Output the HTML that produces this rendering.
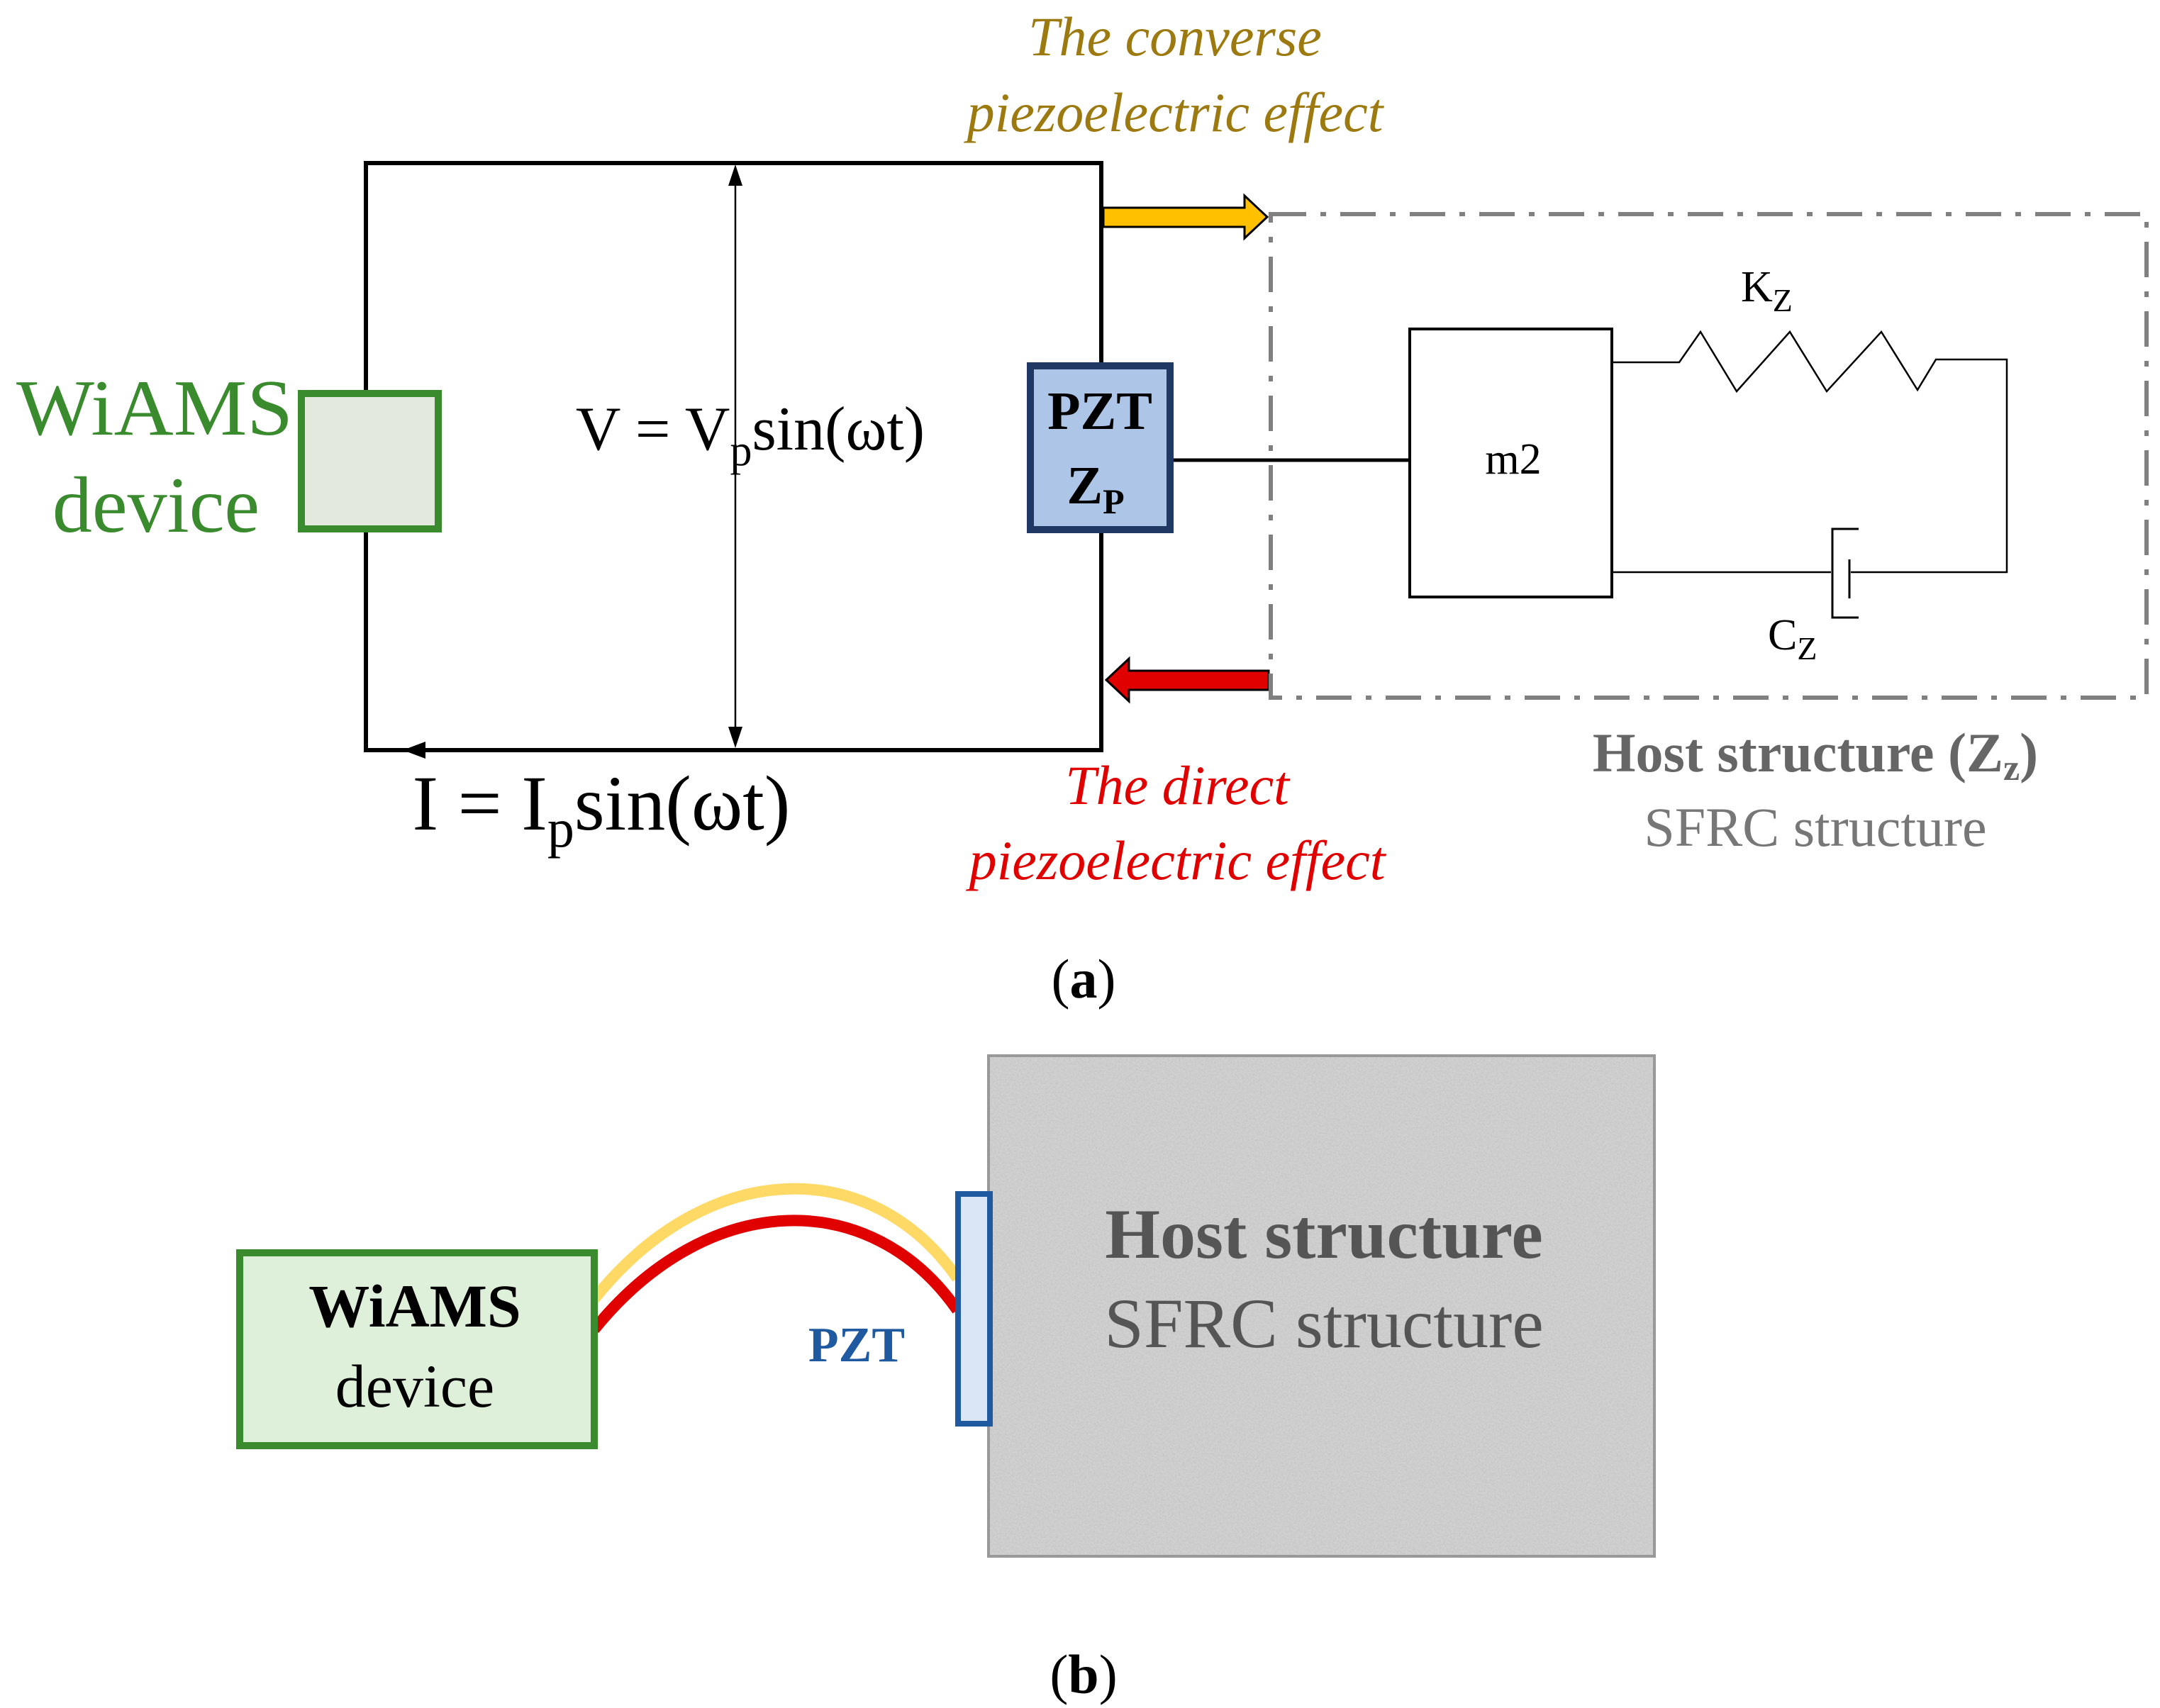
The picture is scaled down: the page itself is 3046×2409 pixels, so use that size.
<!DOCTYPE html>
<html><head><meta charset="utf-8"><style>
html,body{margin:0;padding:0;background:#fff;}
svg{display:block;}
text{font-family:"Liberation Serif",serif;}
</style></head><body>
<svg width="3046" height="2409" viewBox="0 0 3046 2409" xmlns="http://www.w3.org/2000/svg">
<defs>
<filter id="noise" x="0" y="0" width="100%" height="100%">
<feTurbulence type="fractalNoise" baseFrequency="0.4" numOctaves="2" seed="3" result="t"/>
<feColorMatrix in="t" type="matrix" values="0 0 0 0 0.5  0 0 0 0 0.5  0 0 0 0 0.5  0 0 0 0.9 -0.3"/>
</filter>
</defs>
<!-- Part a -->
<text x="1657" y="78" font-size="78" font-style="italic" fill="#9c7a10" text-anchor="middle">The converse</text>
<text x="1657" y="185" font-size="78" font-style="italic" fill="#9c7a10" text-anchor="middle">piezoelectric effect</text>

<rect x="516" y="230" width="1037" height="828" fill="none" stroke="#000" stroke-width="6"/>
<line x1="1037" y1="260" x2="1037" y2="1028" stroke="#000" stroke-width="2.5"/>
<polygon points="1037,232 1027,262 1047,262" fill="#000"/>
<polygon points="1037,1055 1027,1025 1047,1025" fill="#000"/>
<polygon points="568,1058 600,1046 600,1070" fill="#000"/>

<rect x="425" y="555" width="193" height="191" fill="#e3e9dd" stroke="#3a8a2e" stroke-width="10"/>
<text x="218" y="613" font-size="112" fill="#3a8a2e" text-anchor="middle" textLength="390" lengthAdjust="spacingAndGlyphs">WiAMS</text>
<text x="220" y="750" font-size="112" fill="#3a8a2e" text-anchor="middle">device</text>

<text x="1058" y="634" font-size="88" text-anchor="middle">V = V<tspan font-size="62" dy="22">p</tspan><tspan dy="-22">sin(ωt)</tspan></text>

<rect x="1453" y="516" width="197" height="231" fill="#adc6e8" stroke="#1f3864" stroke-width="10"/>
<text x="1551" y="605" font-size="76" font-weight="bold" text-anchor="middle">PZT</text>
<text x="1545" y="710" font-size="76" font-weight="bold" text-anchor="middle">Z<tspan font-size="50" dy="14">P</tspan></text>

<line x1="1655" y1="649" x2="1988" y2="649" stroke="#000" stroke-width="5"/>

<polygon points="1556,293 1755,293 1755,276 1787,306 1755,336 1755,320 1556,320" fill="#ffc000" stroke="#000" stroke-width="3"/>
<polygon points="1789,946 1592,946 1592,929 1560,959 1592,989 1592,973 1789,973" fill="#e00000" stroke="#000" stroke-width="3"/>

<rect x="1792" y="302" width="1235" height="682" fill="none" stroke="#808080" stroke-width="6" stroke-dasharray="50,20,8,20"/>

<rect x="1988" y="464" width="285" height="378" fill="none" stroke="#000" stroke-width="4"/>
<text x="2134" y="668" font-size="62" text-anchor="middle">m2</text>

<polyline points="2273,511 2368,511 2398,468 2449,552 2524,468 2576,552 2653,468 2704,550 2730,507 2830,507 2830,807 2610,807" fill="none" stroke="#000" stroke-width="2.5"/>
<line x1="2273" y1="807" x2="2582" y2="807" stroke="#000" stroke-width="2.5"/>
<polyline points="2621,746 2584,746 2584,871 2621,871" fill="none" stroke="#000" stroke-width="3"/>
<line x1="2608" y1="789" x2="2608" y2="844" stroke="#000" stroke-width="3"/>

<text x="2455" y="425" font-size="62">K<tspan font-size="46" dy="14">Z</tspan></text>
<text x="2493" y="916" font-size="62">C<tspan font-size="46" dy="14">Z</tspan></text>

<text x="2560" y="1088" font-size="78" font-weight="bold" fill="#666" text-anchor="middle">Host structure (Z<tspan font-size="52" dy="12">z</tspan><tspan dy="-12">)</tspan></text>
<text x="2560" y="1193" font-size="78" fill="#777" text-anchor="middle">SFRC structure</text>

<text x="1660" y="1134" font-size="78" font-style="italic" fill="#e00000" text-anchor="middle">The direct</text>
<text x="1660" y="1240" font-size="78" font-style="italic" fill="#e00000" text-anchor="middle">piezoelectric effect</text>

<text x="848" y="1170" font-size="110" text-anchor="middle">I = I<tspan font-size="76" dy="24">p</tspan><tspan dy="-24">sin(ωt)</tspan></text>

<text x="1528" y="1407" font-size="78" text-anchor="middle">(<tspan font-weight="bold">a</tspan>)</text>

<!-- Part b -->
<rect x="1394" y="1489" width="939" height="706" fill="#d0d0d0" stroke="#999" stroke-width="4"/>
<rect x="1396" y="1491" width="935" height="702" filter="url(#noise)"/>
<text x="1867" y="1774" font-size="100" font-weight="bold" fill="#555" text-anchor="middle">Host structure</text>
<text x="1867" y="1900" font-size="100" fill="#555" text-anchor="middle">SFRC structure</text>

<path d="M838,1832 C1000,1630 1230,1630 1350,1803" fill="none" stroke="#ffd966" stroke-width="16"/>
<path d="M838,1875 C1000,1675 1230,1675 1350,1848" fill="none" stroke="#e00000" stroke-width="16"/>

<rect x="1351" y="1684" width="45" height="324" fill="#dae6f5" stroke="#1f5aa0" stroke-width="8"/>
<text x="1208" y="1920" font-size="70" font-weight="bold" fill="#1f5aa0" text-anchor="middle">PZT</text>

<rect x="338" y="1767" width="500" height="272" fill="#dff0da" stroke="#3a8a2e" stroke-width="10"/>
<text x="585" y="1871" font-size="86" font-weight="bold" text-anchor="middle">WiAMS</text>
<text x="585" y="1984" font-size="86" text-anchor="middle">device</text>

<text x="1528" y="2388" font-size="78" text-anchor="middle">(<tspan font-weight="bold">b</tspan>)</text>
</svg>
</body></html>
